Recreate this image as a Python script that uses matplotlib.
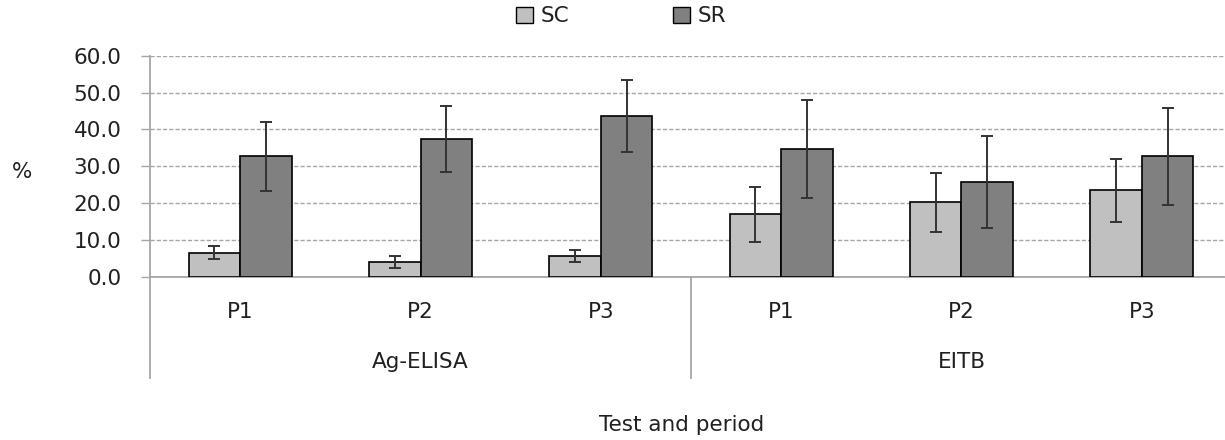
import numpy as np
import matplotlib.pyplot as plt
from matplotlib.patches import Patch
from matplotlib.transforms import blended_transform_factory

plt.rcParams['font.family'] = ['DejaVu Sans']

tests = ['Ag-ELISA', 'EITB']
periods = ['P1', 'P2', 'P3', 'P1', 'P2', 'P3']
sc = [6.6, 4.0, 5.8, 17.0, 20.2, 23.5]
sc_err = [1.8, 1.6, 1.6, 7.5, 8.0, 8.5]
sr = [32.7, 37.4, 43.7, 34.6, 25.7, 32.7]
sr_err = [9.3, 8.9, 9.7, 13.3, 12.4, 13.1]

txt = '#202020'
grey = '#A6A6A6'
fs = 15.5

fig = plt.figure(figsize=(12.25, 4.4), dpi=100)
ax = fig.add_axes([150/1225, 163/440, 1082/1225, 221.3/440])

x = np.arange(len(periods))
w = 0.286
ekw = dict(ecolor='#333333', elinewidth=1.4, capsize=4, capthick=1.4, zorder=4)
ax.bar(x - w/2, sc, w, color='#C0C0C0', edgecolor='black', lw=1.2,
       yerr=sc_err, error_kw=ekw, zorder=3)
ax.bar(x + w/2, sr, w, color='#808080', edgecolor='black', lw=1.2,
       yerr=sr_err, error_kw=ekw, zorder=3)

ax.set_xlim(-0.5, 5.5)
ax.set_ylim(0, 60)
ax.set_yticks(np.arange(0, 61, 10))
ax.set_yticklabels([f'{v:.1f}' for v in np.arange(0, 61, 10)])
ax.tick_params(axis='y', colors=grey, length=6.5, width=1, pad=14,
               labelcolor=txt, labelsize=fs)
ax.set_xticks([])
ax.yaxis.grid(True, linestyle=(0, (3, 1.5)), color=grey, lw=1)
ax.set_axisbelow(True)
for s in ['top', 'right']:
    ax.spines[s].set_visible(False)
for s in ['left', 'bottom']:
    ax.spines[s].set_color(grey)
    ax.spines[s].set_linewidth(1.3)

# group dividers below the axis
for xd in [0, 0.5, 1.0]:
    ax.plot([xd, xd], [0, -0.456], transform=ax.transAxes, color=grey,
            lw=1.3, clip_on=False)

tr = blended_transform_factory(ax.transData, ax.transAxes)
for i, p in enumerate(periods):
    ax.text(i, -0.158, p, transform=tr, ha='center', va='center',
            fontsize=fs, color=txt)
for j, t in enumerate(tests):
    ax.text(1 + 3*j, -0.384, t, transform=tr, ha='center', va='center',
            fontsize=fs, color=txt)

fig.text(22/1225, 1 - 172/440, '%', ha='center', va='center',
         fontsize=fs, color=txt)
fig.text(682/1225, 1 - 425/440, 'Test and period', ha='center',
         va='center', fontsize=fs, color=txt)

handles = [Patch(facecolor='#C0C0C0', edgecolor='black', label='SC'),
           Patch(facecolor='#808080', edgecolor='black', label='SR')]
fig.legend(handles=handles, loc='center', bbox_to_anchor=(0.507, 0.9625),
           ncol=2, frameon=False, fontsize=fs, handlelength=0.8,
           handleheight=0.8, handletextpad=0.35, columnspacing=4.8,
           labelcolor=txt)

fig.savefig('out.png', dpi=100)
